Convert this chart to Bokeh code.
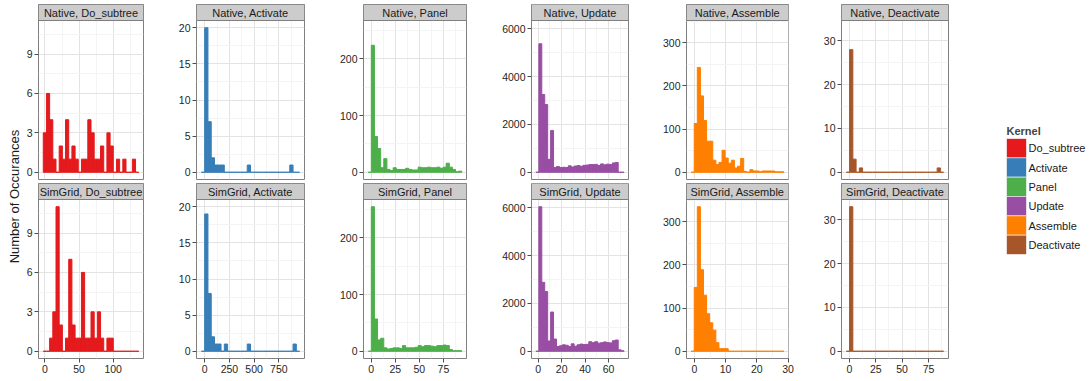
import numpy as np
from bokeh.plotting import figure
from bokeh.layouts import row, column
from bokeh.models import Range1d, FixedTicker, Grid, FactorRange, ColumnDataSource
from bokeh.embed import file_html
from bokeh.resources import INLINE
from bokeh.core.properties import value

# ---------------- data ----------------
kernels = ["Do_subtree", "Activate", "Panel", "Update", "Assemble", "Deactivate"]
colors = ["#E41A1C", "#377EB8", "#4DAF4A", "#984EA3", "#FF7F00", "#A65628"]
envs = ["Native", "SimGrid"]

# histogram bins (30 per column): first edge and bin width
bin_start = [-2.5, -33.0, -3.1, -2.0, -1.05, -2.8]
bin_width = [4.667, 33.1, 3.24, 2.51, 0.99, 3.07]

native_do_subtree = [3, 6, 4, 1, 0, 2, 1, 4, 1, 2, 1, 0, 1, 1, 4, 3, 1, 1, 2, 0, 3, 2, 0, 1, 0, 1, 0, 0, 1, 0]
native_activate = [0, 20, 7, 2, 1, 1, 1, 0, 0, 0, 0, 0, 0, 0, 1, 0, 0, 0, 0, 0, 0, 0, 0, 0, 0, 0, 0, 1, 0, 0]
native_panel = [0, 224, 63, 42, 8, 24, 5, 3, 8, 5, 5, 5, 7, 5, 4, 4, 9, 8, 8, 9, 8, 8, 9, 7, 9, 16, 9, 5, 1, 2]
native_update = [0, 5370, 3250, 2830, 540, 1750, 200, 240, 200, 210, 200, 270, 220, 260, 280, 250, 290, 300,
                 320, 320, 330, 280, 350, 310, 340, 320, 390, 410, 0, 0]
native_assemble = [0, 113, 243, 177, 120, 72, 72, 28, 18, 23, 51, 33, 21, 28, 10, 14, 32, 2, 0, 6, 3, 3, 1, 3,
                   3, 3, 3, 1, 1, 1]
native_deactivate = [0, 28, 3, 0, 1, 0, 0, 0, 0, 0, 0, 0, 0, 0, 0, 0, 0, 0, 0, 0, 0, 0, 0, 0, 0, 0, 0, 0, 1, 0]

simgrid_do_subtree = [0, 0, 1, 3, 11, 2, 0, 1, 7, 2, 1, 1, 6, 1, 1, 3, 1, 3, 1, 0, 1, 1, 0, 0, 0, 0, 0, 0, 0, 0]
simgrid_activate = [0, 19, 8, 2, 1, 1, 0, 1, 0, 0, 0, 0, 0, 0, 1, 0, 0, 0, 0, 0, 0, 0, 0, 0, 0, 0, 0, 0, 1, 0]
simgrid_panel = [0, 255, 57, 20, 23, 6, 4, 5, 6, 6, 5, 10, 6, 6, 6, 7, 10, 8, 10, 10, 9, 8, 10, 10, 11, 10, 3, 1, 1, 1]
simgrid_update = [0, 6040, 2880, 2500, 430, 1640, 510, 200, 230, 270, 250, 200, 310, 210, 270, 300, 280, 290,
                  400, 360, 400, 340, 360, 390, 360, 350, 440, 470, 60, 20]
simgrid_assemble = [0, 148, 335, 189, 130, 87, 66, 49, 20, 6, 6, 6, 0, 0, 0, 0, 0, 0, 0, 0, 0, 0, 0, 0, 0, 0,
                    0, 0, 0, 0]
simgrid_deactivate = [0, 33, 0, 0, 0, 0, 0, 0, 0, 0, 0, 0, 0, 0, 0, 0, 0, 0, 0, 0, 0, 0, 0, 0, 0, 0, 0, 0, 0, 0]

counts = {
    "Native": [native_do_subtree, native_activate, native_panel, native_update, native_assemble, native_deactivate],
    "SimGrid": [simgrid_do_subtree, simgrid_activate, simgrid_panel, simgrid_update, simgrid_assemble,
                simgrid_deactivate],
}

x_ticks = [[0, 50, 100], [0, 250, 500, 750], [0, 25, 50, 75], [0, 20, 40, 60], [0, 10, 20, 30], [0, 25, 50, 75]]
y_ticks = [[0, 3, 6, 9], [0, 5, 10, 15, 20], [0, 100, 200], [0, 2000, 4000, 6000], [0, 100, 200, 300],
           [0, 10, 20, 30]]

y_title = "Number of Occurances"
legend_title = "Kernel"

# ---------------- style / layout ----------------
FONT = "Liberation Sans"
PANEL_H = 159
STRIP_H = 16
left_b = [16, 24, 30, 36, 30, 24]
frame_w = [105, 108, 103, 97, 102, 107]
right_b = [29, 29, 29, 28, 29, 10]
top_b = [4, 1]
bottom_b = [3, 22]
BORDER = "#7f7f7f"
MAJOR = "#e3e3e3"
MINOR = "#f4f4f4"
TXT = "#262626"


def minors(ticks):
    step = ticks[1] - ticks[0]
    return [t + step / 2 for t in [ticks[0] - step] + ticks]


def make_panel(ci, ri):
    env = envs[ri]
    k = kernels[ci]
    col = colors[ci]
    c = counts[env][ci]
    n = len(c)
    edges = bin_start[ci] + bin_width[ci] * np.arange(n + 1)
    span = edges[-1] - edges[0]
    x0, x1 = edges[0] - 0.05 * span, edges[-1] + 0.05 * span
    M = max(max(counts["Native"][ci]), max(counts["SimGrid"][ci]))
    y0, y1 = -0.05 * M, 1.05 * M
    ytop = y1 + (y1 - y0) * STRIP_H / PANEL_H

    p = figure(frame_width=frame_w[ci], frame_height=PANEL_H + STRIP_H,
               x_range=Range1d(x0, x1), y_range=Range1d(y0, ytop),
               x_axis_location="below" if ri == 1 else None, y_axis_location="left",
               toolbar_location=None, output_backend="svg",
               min_border_left=left_b[ci], min_border_right=right_b[ci],
               min_border_top=top_b[ri], min_border_bottom=bottom_b[ri],
               background_fill_color="white", border_fill_color="white",
               outline_line_color=BORDER, outline_line_width=1)
    p.center = [r for r in p.center if not isinstance(r, Grid)]
    p.add_layout(Grid(dimension=0, ticker=FixedTicker(ticks=x_ticks[ci], minor_ticks=minors(x_ticks[ci])),
                      grid_line_color=MAJOR, minor_grid_line_color=MINOR), "center")
    p.add_layout(Grid(dimension=1, ticker=FixedTicker(ticks=y_ticks[ci], minor_ticks=minors(y_ticks[ci])),
                      grid_line_color=MAJOR, minor_grid_line_color=MINOR), "center")

    src = ColumnDataSource(dict(left=edges[:-1], right=edges[1:], top=c, bottom=[0] * n))
    p.quad(left="left", right="right", top="top", bottom="bottom", source=src,
           fill_color=col, line_color=col, line_width=1)

    # facet strip
    p.quad(left=[x0], right=[x1], bottom=[y1], top=[ytop], fill_color="#cccccc", line_color=BORDER, line_width=1)
    p.text(x=[(x0 + x1) / 2], y=[(y1 + ytop) / 2], text=[f"{env}, {k}"], text_align="center",
           text_baseline="middle", text_font=value(FONT), text_font_size="11px", text_color="#1a1a1a")

    axes = [p.yaxis[0]]
    p.yaxis.ticker = FixedTicker(ticks=y_ticks[ci])
    if ri == 1:
        p.xaxis.ticker = FixedTicker(ticks=x_ticks[ci])
        axes.append(p.xaxis[0])
    for ax in axes:
        ax.axis_line_color = None
        ax.major_tick_line_color = "#4d4d4d"
        ax.major_tick_out = 4
        ax.major_tick_in = 0
        ax.minor_tick_line_color = None
        ax.major_label_text_font = FONT
        ax.major_label_text_font_size = "10.5px"
        ax.major_label_text_color = TXT
        ax.major_label_standoff = 2
    return p


rows = [[make_panel(ci, ri) for ci in range(6)] for ri in range(2)]

# y-axis title
p0 = figure(frame_width=1, height=380, title=y_title, title_location="left", x_axis_location=None,
            y_axis_location=None, toolbar_location=None, output_backend="svg", min_border=0,
            min_border_left=21, outline_line_color=None, x_range=Range1d(0, 1), y_range=Range1d(0, 1))
p0.center = []
p0.title.align = "center"
p0.title.text_font = FONT
p0.title.text_font_size = "13px"
p0.title.text_font_style = "normal"
p0.title.text_color = "#1a1a1a"
p0.title.standoff = 0

# legend
pl = figure(frame_width=20, frame_height=116, x_range=Range1d(0, 1), y_range=FactorRange(factors=kernels[::-1]),
            y_axis_location="right", x_axis_location=None, toolbar_location=None, output_backend="svg",
            min_border_left=48, min_border_right=62, min_border_top=138, min_border_bottom=126,
            outline_line_color=None, title=legend_title)
pl.center = []
pl.hbar(y=kernels, left=0, right=1, height=1, fill_color=colors, line_color="#f2f2f2", line_width=0.6)
pl.title.align = "left"
pl.title.text_font = FONT
pl.title.text_font_size = "11px"
pl.title.text_font_style = "bold"
pl.title.standoff = 3
pl.title.offset = 0
ax = pl.yaxis[0]
ax.axis_line_color = None
ax.major_tick_line_color = None
ax.minor_tick_line_color = None
ax.major_tick_out = 0
ax.major_tick_in = 0
ax.minor_tick_out = 0
ax.minor_tick_in = 0
ax.major_label_text_font = FONT
ax.major_label_text_font_size = "11px"
ax.major_label_text_color = "#1a1a1a"
ax.major_label_standoff = 2

layout = row(p0, column(row(*rows[0]), row(*rows[1])), pl)

open("out.html", "w").write(file_html(layout, INLINE))
